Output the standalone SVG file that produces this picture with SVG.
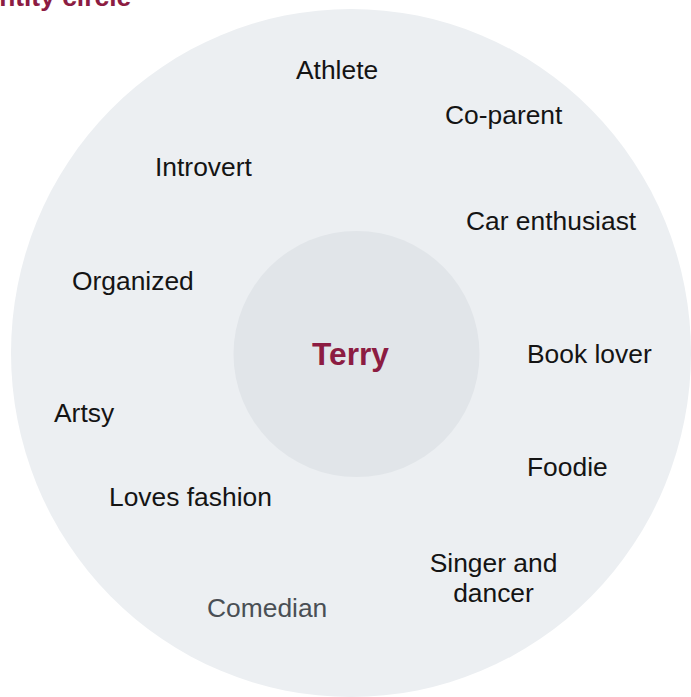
<svg xmlns="http://www.w3.org/2000/svg" width="691" height="697" viewBox="0 0 691 697">
<style>
.lbl{font-family:"Liberation Sans",Arial,sans-serif;font-size:26.4px;fill:#141414}
.title{font-family:"Liberation Sans",Arial,sans-serif;font-size:26.4px;font-weight:bold;fill:#8c1c42}
.center{font-family:"Liberation Sans",Arial,sans-serif;font-size:31.7px;font-weight:bold;fill:#8c1c42}
</style>
<rect width="691" height="697" fill="#ffffff"/>
<text class="title" x="-39" y="6">Identity circle</text>
<g id="outer"><ellipse cx="351" cy="353" rx="340" ry="344" fill="#eceff2"/></g>
<g id="inner"><circle cx="356.5" cy="354" r="123" fill="#e1e5e9"/></g>
<g id="terry"><text class="center" x="350.5" y="365" text-anchor="middle">Terry</text></g>
<g id="connectors"></g>
<g id="athlete"><text class="lbl" x="296" y="79">Athlete</text></g>
<g id="coparent"><text class="lbl" x="445" y="124">Co-parent</text></g>
<g id="introvert"><text class="lbl" x="155" y="176">Introvert</text></g>
<g id="car"><text class="lbl" x="466" y="230">Car enthusiast</text></g>
<g id="organized"><text class="lbl" x="72" y="290">Organized</text></g>
<g id="book"><text class="lbl" x="527" y="363">Book lover</text></g>
<g id="artsy"><text class="lbl" x="54" y="422">Artsy</text></g>
<g id="foodie"><text class="lbl" x="527" y="476">Foodie</text></g>
<g id="fashion"><text class="lbl" x="109" y="506">Loves fashion</text></g>
<g id="singer"><text class="lbl" x="493.5" y="572" text-anchor="middle">Singer and</text><text class="lbl" x="493.5" y="602" text-anchor="middle">dancer</text></g>
<g id="comedian"><text class="lbl" x="207" y="617" style="fill:#4a4f55">Comedian</text></g>
</svg>
